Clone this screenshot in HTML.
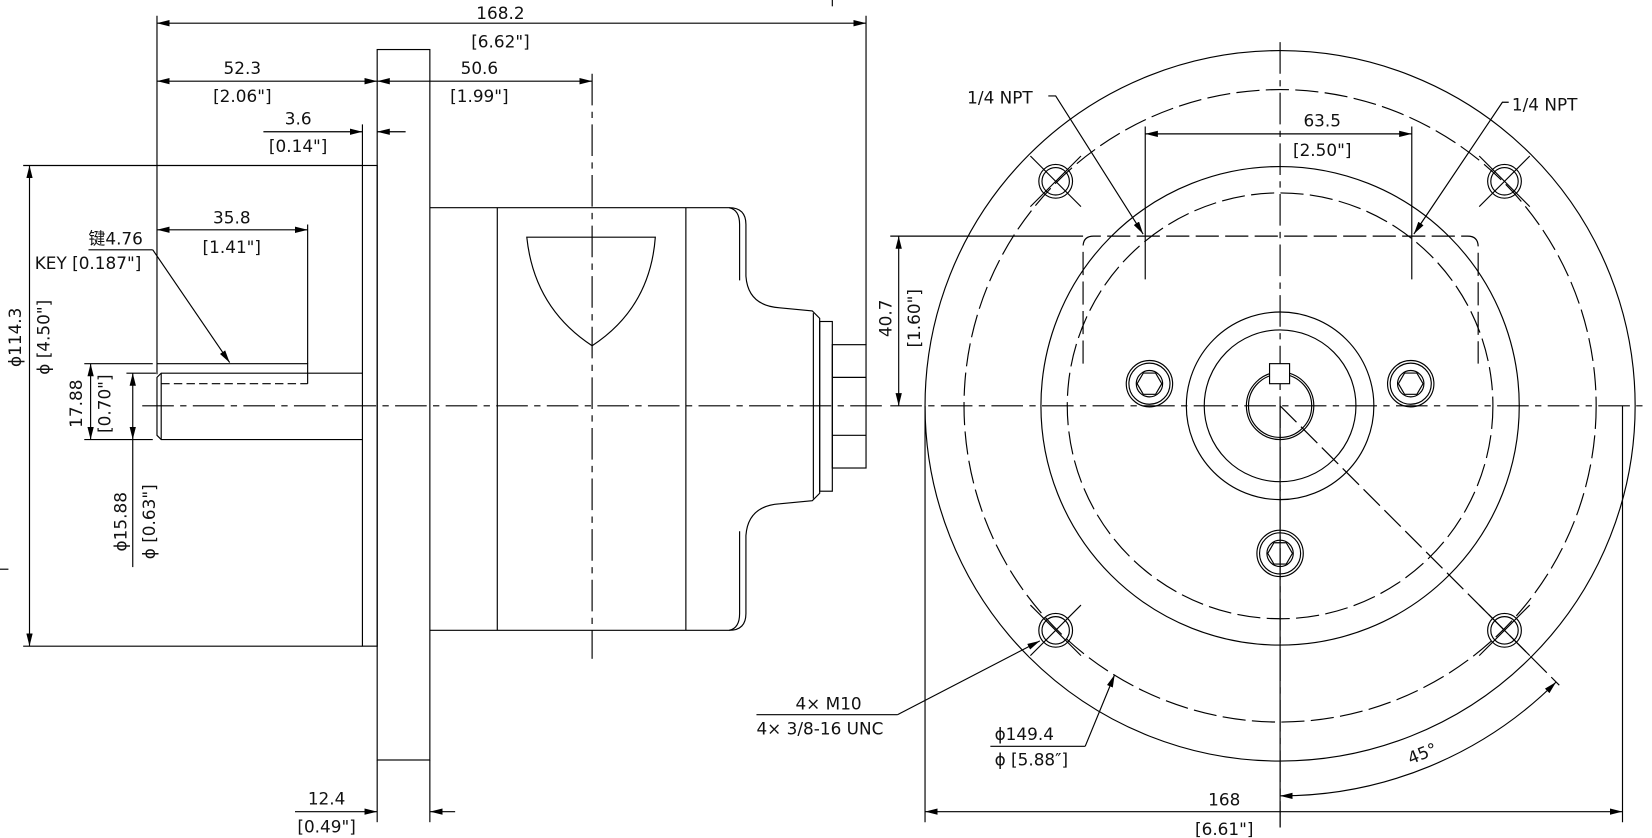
<!DOCTYPE html>
<html><head><meta charset="utf-8"><style>
html,body{margin:0;padding:0;background:#fff;}
svg{display:block;}
text{font-family:"DejaVu Sans","Liberation Sans",sans-serif;font-size:16px;fill:#111;}
</style></head><body>
<svg width="1652" height="838" viewBox="0 0 1568 795" preserveAspectRatio="none" xmlns="http://www.w3.org/2000/svg">
<defs>
<marker id="a" viewBox="0 0 12 6" refX="12" refY="3" markerWidth="12" markerHeight="6" orient="auto" markerUnits="userSpaceOnUse"><path d="M0,0 L12,3 L0,6 z" fill="#000"/></marker>
<marker id="s" viewBox="0 0 12 6" refX="0" refY="3" markerWidth="12" markerHeight="6" orient="auto" markerUnits="userSpaceOnUse"><path d="M12,0 L0,3 L12,6 z" fill="#000"/></marker>
<g id="h" fill="none" stroke="#000" stroke-width="1.1"><circle cx="0" cy="0" r="13"/><circle cx="0" cy="0" r="16"/><line x1="-24" y1="-24" x2="24" y2="24"/><line x1="-24" y1="24" x2="24" y2="-24"/></g>
<g id="c" fill="none" stroke="#000" stroke-width="1.1"><circle r="22"/><circle r="19.5"/><polygon points="11.7,0 5.85,10.1 -5.85,10.1 -11.7,0 -5.85,-10.1 5.85,-10.1"/><circle r="12.5"/></g>
</defs>
<g fill="none" stroke="#000" stroke-width="1.1">
<line x1="135" y1="385" x2="840" y2="385" stroke-dasharray="30,6,6,6"/>
<line x1="562" y1="70" x2="562" y2="625" stroke-dasharray="30,6,6,6"/>
<rect x="344" y="157" width="14" height="456"/>
<rect x="358" y="47" width="50" height="674"/>
<path d="M408,197 L692,197 Q708,197 708,213 L708,262 Q710,290 740,292 L771,295 L778,302 L778,468 L771,475 L740,478 Q710,480 708,508 L708,582 Q708,598 692,598 L408,598"/>
<path d="M692,197 Q702,199 702,213 L702,266 M702,504 L702,582 Q702,596 692,598"/>
<line x1="472" y1="197" x2="472" y2="598"/>
<line x1="651" y1="197" x2="651" y2="598"/>
<line x1="772" y1="297" x2="772" y2="473"/>
<rect x="778" y="305" width="12" height="161"/>
<rect x="790" y="327" width="32" height="117"/>
<line x1="790" y1="358" x2="822" y2="358"/><line x1="790" y1="413" x2="822" y2="413"/>
<path d="M500,225 L622,225 Q617,292 562,328 Q507,292 500,225 Z"/>
<path d="M344,354 L153,354 L149,358 L149,413 L153,417 L344,417"/>
<line x1="153" y1="354" x2="153" y2="417"/>
<path d="M149,345 L292,345 L292,364"/>
<line x1="153" y1="364" x2="292" y2="364" stroke-dasharray="8,4"/>
<line x1="149" y1="15" x2="149" y2="355"/>
<line x1="822" y1="15" x2="822" y2="327"/>
<line x1="149" y1="22" x2="822" y2="22" marker-start="url(#s)" marker-end="url(#a)"/>
<line x1="790" y1="0" x2="790" y2="6"/>
<line x1="0" y1="540" x2="8" y2="540"/>
<line x1="149" y1="77" x2="358" y2="77" marker-start="url(#s)" marker-end="url(#a)"/>
<line x1="358" y1="77" x2="562" y2="77" marker-start="url(#s)" marker-end="url(#a)"/>
<line x1="344" y1="118" x2="344" y2="157"/>
<line x1="250" y1="125" x2="344" y2="125" marker-end="url(#a)"/>
<line x1="385" y1="125" x2="358" y2="125" marker-end="url(#a)"/>
<line x1="22" y1="157" x2="344" y2="157"/>
<line x1="22" y1="613" x2="344" y2="613"/>
<line x1="28" y1="157" x2="28" y2="613" marker-start="url(#s)" marker-end="url(#a)"/>
<line x1="292" y1="213" x2="292" y2="345"/>
<line x1="149" y1="218" x2="292" y2="218" marker-start="url(#s)" marker-end="url(#a)"/>
<line x1="84" y1="237" x2="145" y2="237"/>
<line x1="145" y1="237" x2="218" y2="344" marker-end="url(#a)"/>
<line x1="80" y1="345" x2="145" y2="345"/>
<line x1="80" y1="417" x2="145" y2="417"/>
<line x1="86" y1="345" x2="86" y2="417" marker-start="url(#s)" marker-end="url(#a)"/>
<line x1="120" y1="354" x2="148" y2="354"/>
<line x1="126" y1="354" x2="126" y2="417" marker-start="url(#s)" marker-end="url(#a)"/>
<line x1="126" y1="417" x2="126" y2="538"/>
<line x1="358" y1="721" x2="358" y2="780"/>
<line x1="408" y1="721" x2="408" y2="780"/>
<line x1="280" y1="770" x2="358" y2="770" marker-end="url(#a)"/>
<line x1="432" y1="770" x2="408" y2="770" marker-end="url(#a)"/>
<line x1="845" y1="385" x2="1562" y2="385" stroke-dasharray="30,6,6,6"/>
<line x1="1215" y1="40" x2="1215" y2="785" stroke-dasharray="30,6,6,6"/>
<line x1="1215" y1="385" x2="1215" y2="785"/>
<circle cx="1215" cy="385" r="337"/>
<circle cx="1215" cy="385" r="300" stroke-dasharray="22,6"/>
<circle cx="1215" cy="385" r="227"/>
<circle cx="1215" cy="385" r="202" stroke-dasharray="22,6"/>
<circle cx="1215" cy="385" r="89"/>
<circle cx="1215" cy="385" r="72"/>
<circle cx="1215" cy="385" r="32"/>
<circle cx="1215" cy="385" r="30"/>
<rect x="1205" y="345" width="19" height="19" fill="#fff"/>
<path d="M1028,345 L1028,234 Q1028,224 1038,224 L1393,224 Q1403,224 1403,234 L1403,345" stroke-dasharray="22,6"/>
<use href="#h" x="1002" y="172"/><use href="#h" x="1428" y="172"/><use href="#h" x="1002" y="598"/><use href="#h" x="1428" y="598"/>
<use href="#c" x="1091" y="364"/><use href="#c" x="1339" y="364"/><use href="#c" x="1215" y="525"/>
<line x1="1215" y1="385" x2="1480" y2="650" stroke-dasharray="22,6"/>
<path d="M1215,755 A370,370 0 0 0 1477,647" marker-start="url(#s)" marker-end="url(#a)"/>
<line x1="845" y1="224" x2="1028" y2="224"/>
<line x1="853" y1="224" x2="853" y2="385" marker-start="url(#s)" marker-end="url(#a)"/>
<line x1="1087" y1="120" x2="1087" y2="265"/>
<line x1="1340" y1="120" x2="1340" y2="265"/>
<line x1="1087" y1="127" x2="1340" y2="127" marker-start="url(#s)" marker-end="url(#a)"/>
<path d="M995,91 L1002,91 L1085,222" marker-end="url(#a)"/>
<path d="M1432,97 L1426,97 L1342,222" marker-end="url(#a)"/>
<line x1="878" y1="385" x2="878" y2="780"/>
<line x1="1540" y1="385" x2="1540" y2="780"/>
<line x1="878" y1="770" x2="1540" y2="770" marker-start="url(#s)" marker-end="url(#a)"/>
<line x1="718" y1="678" x2="852" y2="678"/>
<line x1="852" y1="678" x2="987" y2="608" marker-end="url(#a)"/>
<line x1="940" y1="708" x2="1030" y2="708"/>
<line x1="1030" y1="708" x2="1058" y2="640" marker-end="url(#a)"/>
</g>
<g text-anchor="middle">
<text x="475" y="18">168.2</text><text x="475" y="45">[6.62"]</text>
<text x="230" y="70">52.3</text><text x="230" y="97">[2.06"]</text>
<text x="455" y="70">50.6</text><text x="455" y="97">[1.99"]</text>
<text x="283" y="118">3.6</text><text x="283" y="144">[0.14"]</text>
<text x="220" y="212">35.8</text><text x="220" y="240">[1.41"]</text>
<text x="310" y="763">12.4</text><text x="310" y="790">[0.49"]</text>
<text x="1255" y="120">63.5</text><text x="1255" y="148">[2.50"]</text>
<text x="1162" y="764">168</text><text x="1162" y="792">[6.61"]</text>
<text transform="translate(20,320) rotate(-90)">ϕ114.3</text>
<text transform="translate(47,320) rotate(-90)">ϕ [4.50"]</text>
<text transform="translate(78,383) rotate(-90)">17.88</text>
<text transform="translate(105,383) rotate(-90)">[0.70"]</text>
<text transform="translate(120,495) rotate(-90)">ϕ15.88</text>
<text transform="translate(147,495) rotate(-90)">ϕ [0.63"]</text>
<text transform="translate(846,302) rotate(-90)">40.7</text>
<text transform="translate(873,302) rotate(-90)">[1.60"]</text>
<text transform="translate(1352,720) rotate(-22)">45°</text>
</g>
<text x="84" y="232" font-family="Liberation Sans,Noto Sans CJK SC,sans-serif">键4.76</text>
<text x="33" y="255">KEY [0.187"]</text>
<text x="918" y="98">1/4 NPT</text>
<text x="1435" y="105">1/4 NPT</text>
<text x="755" y="673">4× M10</text>
<text x="718" y="697">4× 3/8-16 UNC</text>
<text x="944" y="702">ϕ149.4</text>
<text x="944" y="726">ϕ [5.88″]</text>
</svg>
</body></html>
